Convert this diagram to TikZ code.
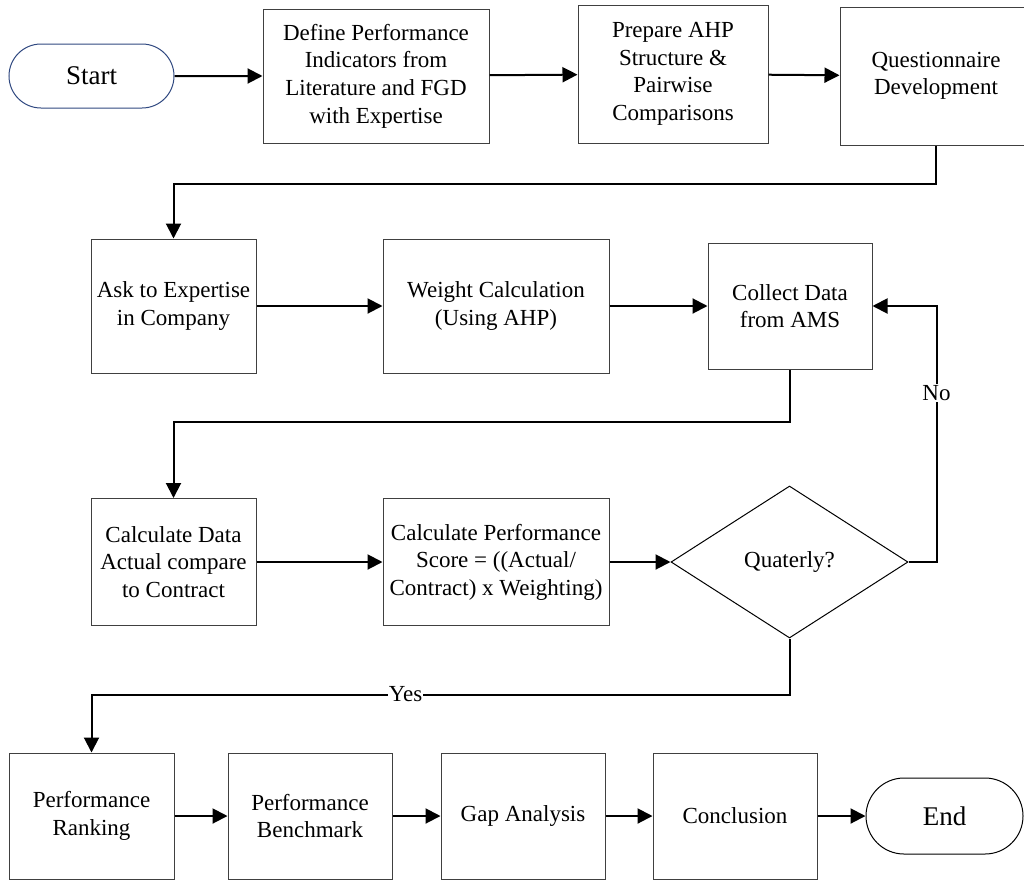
\documentclass[tikz,border=0pt]{standalone}
\usepackage{fontspec}
\setmainfont{Liberation Serif}
\usetikzlibrary{arrows.meta,shapes.geometric,shapes.misc}
\definecolor{startblue}{RGB}{47,72,128}
\definecolor{boxgray}{RGB}{64,64,64}

\begin{document}
\begin{tikzpicture}[x=1pt,y=1pt,yscale=-1,xscale=1,
  box/.style={draw=boxgray,line width=1pt,rectangle,inner sep=2pt,align=center,font=\fontsize{23}{27.6}\selectfont},
  term/.style={draw,line width=1pt,rounded rectangle,inner sep=0pt,font=\fontsize{27}{32}\selectfont},
  decide/.style={draw,line width=1pt,diamond,inner sep=0pt,minimum width=237pt,minimum height=152pt,font=\fontsize{23}{27.6}\selectfont},
  conn/.style={line width=2pt,-{Triangle[length=15pt,width=15pt]}},
  lbl/.style={fill=white,inner sep=1pt,font=\fontsize{23}{27.6}\selectfont}]
%set diagram left start at 0, and has height of 881
\useasboundingbox (0,0) rectangle (1024,881);

%Shape: Terminal [id:start]
\draw (91.5,76) node [term,draw=startblue,minimum width=165pt,minimum height=64pt] (start) {Start};
%Shape: Rectangle [id:define]
\draw (376,76) node [box,minimum width=226pt,minimum height=134pt] (define) {Define Performance\\Indicators from\\Literature and FGD\\with Expertise};
%Shape: Rectangle [id:prepare]
\draw (673,74) node [box,minimum width=190pt,minimum height=138pt] (prepare) {Prepare AHP\\Structure \&\\Pairwise\\Comparisons};
%Shape: Rectangle [id:quest]
\draw (936,76) node [box,minimum width=192pt,minimum height=138pt] (quest) {Questionnaire\\Development};

%Shape: Rectangle [id:ask]
\draw (173.5,306) node [box,minimum width=165pt,minimum height=134pt] (ask) {Ask to Expertise\\in Company};
%Shape: Rectangle [id:weight]
\draw (496,306) node [box,minimum width=226pt,minimum height=134pt] (weight) {Weight Calculation\\(Using AHP)};
%Shape: Rectangle [id:collect]
\draw (790,306) node [box,minimum width=164pt,minimum height=126pt] (collect) {Collect Data\\from AMS};

%Shape: Rectangle [id:calcdata]
\draw (173.5,562) node [box,minimum width=165pt,minimum height=127pt] (calcdata) {Calculate Data\\Actual compare\\to Contract};
%Shape: Rectangle [id:calcscore]
\draw (496,562) node [box,minimum width=226pt,minimum height=127pt] (calcscore) {Calculate Performance\\Score = ((Actual/\\Contract) x Weighting)};
%Shape: Diamond [id:quaterly]
\draw (789.5,562) node [decide] (quaterly) {Quaterly?};

%Shape: Rectangle [id:ranking]
\draw (91.5,816) node [box,minimum width=165pt,minimum height=126pt] (ranking) {Performance\\Ranking};
%Shape: Rectangle [id:benchmark]
\draw (310,816) node [box,minimum width=164pt,minimum height=126pt] (benchmark) {Performance\\Benchmark};
%Shape: Rectangle [id:gap]
\draw (523,816) node [box,minimum width=164pt,minimum height=126pt] (gap) {Gap Analysis};
%Shape: Rectangle [id:conclusion]
\draw (735,816) node [box,minimum width=164pt,minimum height=126pt] (conclusion) {Conclusion};
%Shape: Terminal [id:finish]
\draw (944.5,816) node [term,minimum width=157pt,minimum height=76pt] (finish) {End};

%Straight Lines
\draw [conn] (start) -- (define) ;
\draw [conn] (define) -- (prepare) ;
\draw [conn] (prepare) -- (quest) ;
\draw [conn] (quest.south) -- ++(0,38) -| (ask.north) ;
\draw [conn] (ask) -- (weight) ;
\draw [conn] (weight) -- (collect) ;
\draw [conn] (collect.south) -- ++(0,52) -| (calcdata.north) ;
\draw [conn] (calcdata) -- (calcscore) ;
\draw [conn] (calcscore) -- (quaterly) ;
%Decision branches
\draw [conn] (quaterly.east) -- ++(28,0) |- node [lbl,pos=0.33] {No} (collect.east) ;
\draw [conn] (quaterly.south) -- ++(0,56) -| node [lbl,pos=0.275] {Yes} (ranking.north) ;
%Straight Lines
\draw [conn] (ranking) -- (benchmark) ;
\draw [conn] (benchmark) -- (gap) ;
\draw [conn] (gap) -- (conclusion) ;
\draw [conn] (conclusion) -- (finish) ;
\end{tikzpicture}
\end{document}
